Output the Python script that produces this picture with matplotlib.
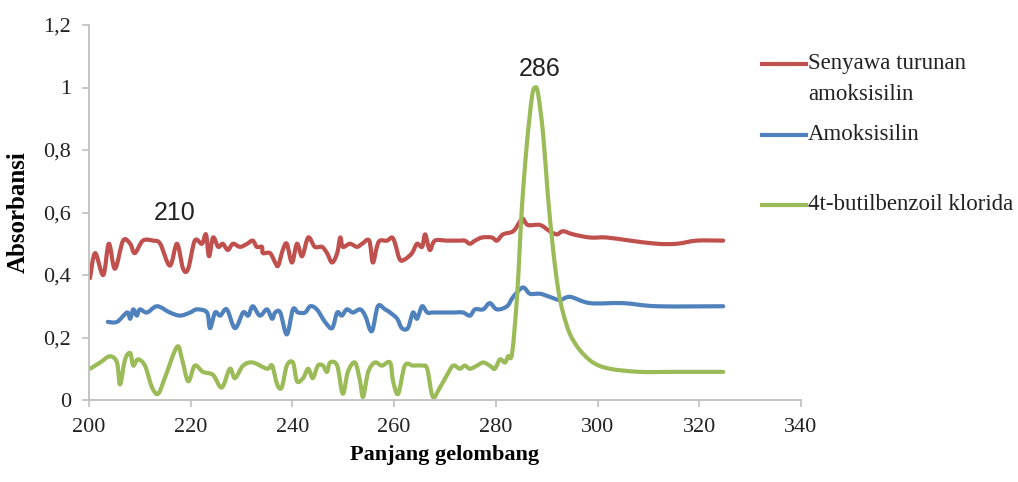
import matplotlib
matplotlib.use("Agg")
import matplotlib.pyplot as plt
from matplotlib.lines import Line2D
from matplotlib.path import Path
from matplotlib.patches import PathPatch

# ---- data ----
red_x = [200.2, 201.2, 202.8, 203.9, 205.1, 206.7, 208.1, 209.0, 210.6, 212.6, 214.0, 215.9,
         217.3, 218.5, 219.5, 220.8, 222.2, 223.0, 223.6, 224.4, 225.4, 226.3, 227.3, 228.3,
         229.7, 231.1, 232.2, 233.0, 234.0, 234.2, 235.6, 236.6, 237.2, 238.1, 238.9, 239.9,
         240.9, 241.9, 243.1, 244.4, 245.8, 246.8, 247.8, 248.8, 249.4, 249.9, 251.3, 252.7,
         253.7, 255.1, 255.8, 256.6, 257.2, 258.6, 259.6, 260.2, 261.1, 262.1, 263.5, 264.5,
         265.5, 266.1, 267.0, 268.0, 270.4, 272.9, 273.9, 274.9, 275.9, 277.3, 279.2, 280.2,
         281.4, 283.4, 284.7, 285.3, 286.3, 288.7, 290.6, 292.0, 293.2, 295.2, 298.5, 301.8,
         306.4, 311.7, 315.6, 319.5, 324.7]
red_y = [0.39, 0.47, 0.40, 0.50, 0.42, 0.51, 0.50, 0.47, 0.51, 0.51, 0.50, 0.43,
         0.50, 0.42, 0.42, 0.51, 0.50, 0.53, 0.46, 0.52, 0.49, 0.50, 0.48, 0.50,
         0.49, 0.50, 0.51, 0.49, 0.49, 0.47, 0.47, 0.44, 0.43, 0.48, 0.50, 0.44,
         0.50, 0.46, 0.52, 0.49, 0.49, 0.47, 0.44, 0.47, 0.52, 0.49, 0.50, 0.49,
         0.50, 0.51, 0.44, 0.49, 0.51, 0.51, 0.52, 0.50, 0.45, 0.45, 0.47, 0.50,
         0.49, 0.53, 0.48, 0.51, 0.51, 0.51, 0.51, 0.50, 0.51, 0.52, 0.52, 0.51,
         0.53, 0.54, 0.57, 0.58, 0.56, 0.56, 0.54, 0.53, 0.54, 0.53, 0.52, 0.52,
         0.51, 0.50, 0.50, 0.51, 0.51]

blue_x = [203.7, 205.5, 207.5, 208.1, 208.7, 209.4, 210.0, 211.4, 213.4, 215.9, 217.9, 219.9,
          221.2, 223.2, 223.8, 224.8, 225.8, 227.1, 228.7, 230.3, 231.3, 232.2, 233.6, 235.0,
          236.0, 236.6, 237.6, 238.9, 240.1, 241.1, 242.5, 243.5, 244.8, 246.4, 247.8, 248.8,
          249.7, 250.7, 251.9, 253.3, 254.3, 255.6, 256.8, 258.2, 259.2, 260.6, 261.5, 262.7,
          263.7, 264.5, 265.5, 266.5, 267.6, 269.6, 271.6, 273.5, 274.9, 275.9, 277.5, 278.8,
          280.2, 282.2, 283.4, 285.3, 286.7, 288.7, 290.6, 292.6, 294.6, 298.5, 305.0, 311.7,
          324.7]
blue_y = [0.25, 0.25, 0.28, 0.26, 0.29, 0.27, 0.29, 0.28, 0.30, 0.28, 0.27, 0.28,
          0.29, 0.28, 0.23, 0.28, 0.27, 0.29, 0.23, 0.28, 0.27, 0.30, 0.27, 0.29,
          0.26, 0.28, 0.28, 0.21, 0.29, 0.28, 0.28, 0.30, 0.29, 0.25, 0.23, 0.28,
          0.27, 0.29, 0.28, 0.29, 0.27, 0.22, 0.30, 0.29, 0.28, 0.26, 0.23, 0.23,
          0.28, 0.26, 0.30, 0.28, 0.28, 0.28, 0.28, 0.28, 0.27, 0.29, 0.29, 0.31,
          0.29, 0.30, 0.33, 0.36, 0.34, 0.34, 0.33, 0.32, 0.33, 0.31, 0.31, 0.30,
          0.30]

green_x = [200.2, 202.2, 204.1, 205.5, 206.1, 207.1, 208.1, 208.7, 209.6, 211.0, 212.4, 213.6,
           214.9, 217.3, 218.3, 219.5, 220.8, 222.4, 224.4, 226.1, 227.7, 228.7, 230.3, 232.2,
           235.0, 236.0, 237.0, 237.9, 238.9, 240.1, 240.9, 242.1, 243.1, 244.0, 245.0, 246.0,
           246.8, 247.4, 248.8, 249.9, 250.9, 252.3, 253.3, 253.9, 254.9, 256.2, 257.6, 259.2,
           259.8, 260.8, 262.1, 263.7, 265.5, 266.5, 267.6, 269.0, 270.4, 271.6, 272.9, 273.9,
           274.9, 276.3, 277.5, 278.8, 279.8, 280.8, 281.8, 282.4, 283.2, 284.2, 285.1, 286.1,
           287.1, 287.7, 288.3, 289.3, 290.2, 291.2, 292.2, 293.2, 294.6, 296.5, 299.1, 302.4,
           308.3, 314.8, 324.7]
green_y = [0.10, 0.12, 0.14, 0.12, 0.05, 0.13, 0.15, 0.11, 0.13, 0.11, 0.04, 0.02,
           0.07, 0.17, 0.13, 0.06, 0.11, 0.09, 0.08, 0.04, 0.10, 0.07, 0.11, 0.12,
           0.10, 0.11, 0.05, 0.04, 0.11, 0.12, 0.06, 0.07, 0.10, 0.07, 0.11, 0.11,
           0.09, 0.12, 0.11, 0.02, 0.09, 0.12, 0.06, 0.01, 0.09, 0.12, 0.11, 0.12,
           0.06, 0.02, 0.11, 0.11, 0.11, 0.10, 0.01, 0.04, 0.08, 0.11, 0.10, 0.11,
           0.10, 0.11, 0.12, 0.11, 0.10, 0.13, 0.12, 0.14, 0.15, 0.34, 0.61, 0.82,
           0.97, 1.00, 0.98, 0.85, 0.66, 0.49, 0.36, 0.28, 0.21, 0.16, 0.12, 0.10,
           0.09, 0.09, 0.09]

series_labels = ["Senyawa turunan\namoksisilin", "Amoksisilin", "4t-butilbenzoil klorida"]
series_colors = ["#C0504D", "#4F81BD", "#9BBB59"]
x_ticks = [200, 220, 240, 260, 280, 300, 320, 340]
y_ticks = [0, 0.2, 0.4, 0.6, 0.8, 1.0, 1.2]
y_ticklabels = ["0", "0,2", "0,4", "0,6", "0,8", "1", "1,2"]
peak_labels = [(216.9, 0.60, "210"), (288.7, 1.06, "286")]


def smooth_path(xs, ys):
    """Excel-style smoothed line: Catmull-Rom through the data points as cubic Beziers."""
    pts = list(zip(xs, ys))
    n = len(pts)
    verts = [pts[0]]
    codes = [Path.MOVETO]
    for i in range(n - 1):
        p0 = pts[i - 1] if i > 0 else pts[i]
        p1 = pts[i]
        p2 = pts[i + 1]
        p3 = pts[i + 2] if i + 2 < n else pts[i + 1]
        c1 = (p1[0] + (p2[0] - p0[0]) / 6.0, p1[1] + (p2[1] - p0[1]) / 6.0)
        c2 = (p2[0] - (p3[0] - p1[0]) / 6.0, p2[1] - (p3[1] - p1[1]) / 6.0)
        verts += [c1, c2, p2]
        codes += [Path.CURVE4] * 3
    return Path(verts, codes)


# ---- figure ----
fig = plt.figure(figsize=(10.18, 4.82), dpi=100)
ax = fig.add_axes([89 / 1018, 1 - 400 / 482, (801 - 89) / 1018, (400 - 25) / 482])

serif = ["Liberation Serif", "DejaVu Serif"]
sans = ["Liberation Sans", "DejaVu Sans"]

for xs, ys, c in zip([red_x, blue_x, green_x], [red_y, blue_y, green_y], series_colors):
    patch = PathPatch(smooth_path(xs, ys), facecolor="none", edgecolor=c, lw=3.0,
                      joinstyle="round", capstyle="round", transform=ax.transData)
    ax.add_patch(patch)

ax.set_xlim(200, 340)
ax.set_ylim(0, 1.2)
ax.set_xticks(x_ticks)
ax.set_xticklabels([str(t) for t in x_ticks], family=serif, fontsize=16, color="#222222")
ax.set_yticks(y_ticks)
ax.set_yticklabels(y_ticklabels, family=serif, fontsize=16, color="#222222")

for s in ["top", "right"]:
    ax.spines[s].set_visible(False)
for s in ["left", "bottom"]:
    ax.spines[s].set_color("#BFBFBF")
    ax.spines[s].set_linewidth(1.3)
ax.tick_params(axis="both", direction="out", length=5, width=1.2, color="#BFBFBF")
ax.tick_params(axis="y", pad=8)
ax.tick_params(axis="x", pad=8)

ax.set_xlabel("Panjang gelombang", family=serif, fontsize=16, fontweight="bold", labelpad=6)
ax.set_ylabel("Absorbansi", family=serif, fontsize=18, fontweight="bold", labelpad=10)

for x, y, t in peak_labels:
    ax.text(x, y, t, family=sans, fontsize=18, ha="center", va="center", color="#222222")

# ---- legend (manual, matching Excel layout) ----
W, H = 1018.0, 482.0
leg_rows = [64, 135, 205]
for lab, c, py in zip(series_labels, series_colors, leg_rows):
    fig.add_artist(Line2D([762 / W, 806 / W], [1 - py / H, 1 - py / H], color=c, lw=3.0,
                          transform=fig.transFigure))
    lines = lab.split("\n")
    for i, ln in enumerate(lines):
        fig.text(808 / W, 1 - (py + i * 30) / H, ln, family=serif, fontsize=16.5,
                 ha="left", va="center", color="#222222")

fig.savefig("out.png", dpi=100)
